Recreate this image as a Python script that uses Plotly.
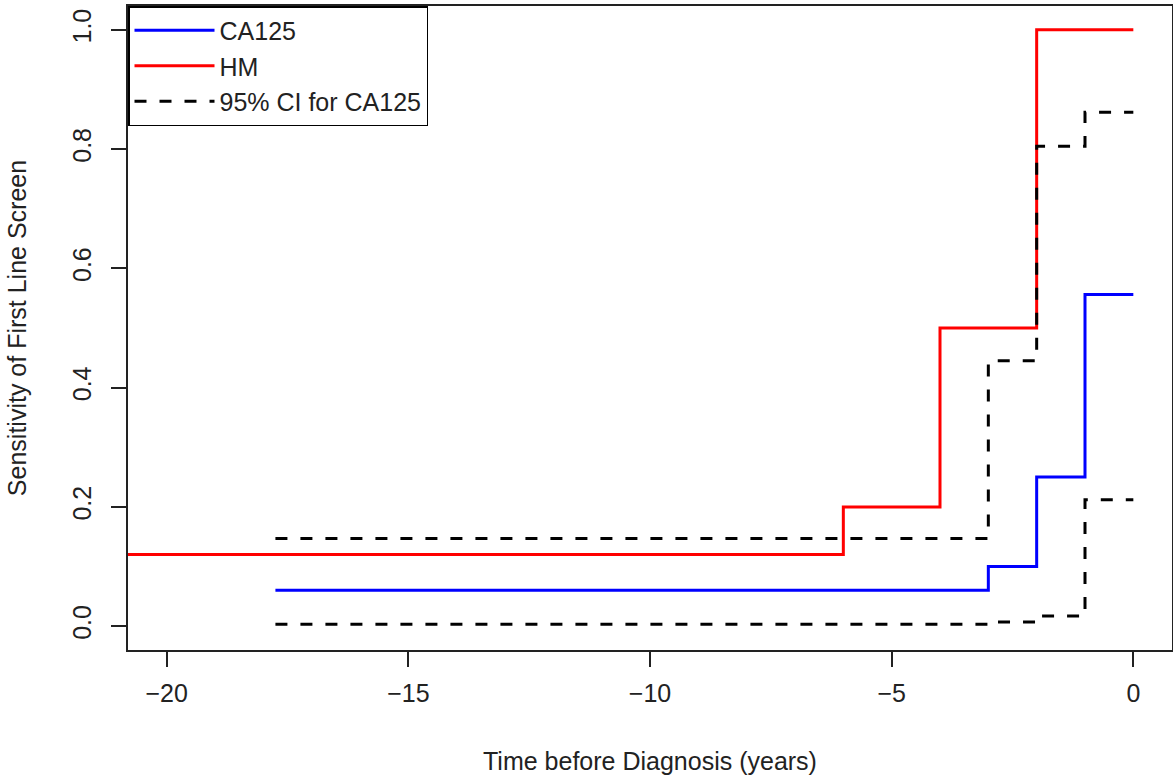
import plotly.graph_objects as go

# Step-function data (x = step start times, y = values; last point is the end)
hm_x = [-21, -6, -4, -2, 0]
hm_y = [0.12, 0.20, 0.50, 1.00, 1.00]

ca_x = [-17.75, -3, -2, -1, 0]
ca_y = [0.06, 0.10, 0.25, 0.556, 0.556]

ci_up_x = [-17.75, -3, -2, -1, 0]
ci_up_y = [0.147, 0.445, 0.805, 0.862, 0.862]

ci_lo_x = [-17.75, -3, -2, -1, 0]
ci_lo_y = [0.003, 0.007, 0.017, 0.212, 0.212]

x_ticks = [-20, -15, -10, -5, 0]
x_tick_labels = ["\u221220", "\u221215", "\u221210", "\u22125", "0"]
y_ticks = [0.0, 0.2, 0.4, 0.6, 0.8, 1.0]
y_tick_labels = ["0.0", "0.2", "0.4", "0.6", "0.8", "1.0"]

FONT = "Liberation Sans, Arial, sans-serif"
FS = 25
DASH = "12px,13px"

fig = go.Figure()
fig.add_trace(go.Scatter(x=ca_x, y=ca_y, mode="lines", line_shape="hv",
                         line=dict(color="#0000ff", width=3), name="CA125"))
fig.add_trace(go.Scatter(x=hm_x, y=hm_y, mode="lines", line_shape="hv",
                         line=dict(color="#ff0000", width=3), name="HM"))
fig.add_trace(go.Scatter(x=ci_up_x, y=ci_up_y, mode="lines", line_shape="hv",
                         line=dict(color="black", width=3, dash=DASH),
                         name="95% CI for CA125"))
fig.add_trace(go.Scatter(x=ci_lo_x, y=ci_lo_y, mode="lines", line_shape="hv",
                         line=dict(color="black", width=3, dash=DASH),
                         name="95% CI lower", showlegend=False))

fig.update_layout(
    width=1173, height=779,
    margin=dict(l=128, r=1, t=6, b=129, autoexpand=False),
    paper_bgcolor="white", plot_bgcolor="white",
    font=dict(family=FONT, size=FS, color="#222222"),
    showlegend=True,
    legend=dict(x=0, y=1, xanchor="left", yanchor="top",
                bordercolor="black", borderwidth=1.5, bgcolor="white",
                font=dict(family=FONT, size=FS, color="#222222"),
                tracegroupgap=0, itemwidth=80,
                traceorder="normal"),
    xaxis=dict(range=[-20.8, 0.8], tickvals=x_ticks, ticktext=x_tick_labels,
               showgrid=False, zeroline=False, showline=True, linecolor="#222222",
               linewidth=1.5, mirror=True, ticks="outside", ticklen=15,
               tickwidth=1.5, tickcolor="#222222", ticklabelstandoff=5,
               title=dict(text="Time before Diagnosis (years)", standoff=47,
                          font=dict(family=FONT, size=FS))),
    yaxis=dict(range=[-0.04, 1.04], tickvals=y_ticks, ticktext=y_tick_labels,
               showgrid=False, zeroline=False, showline=True, linecolor="#222222",
               linewidth=1.5, mirror=True, ticks="outside", ticklen=15,
               tickwidth=1.5, tickcolor="#222222", tickangle=-90,
               ticklabelstandoff=10,
               title=dict(text="Sensitivity of First Line Screen", standoff=35,
                          font=dict(family=FONT, size=FS))),
)

fig.write_html("out.html", config={"displayModeBar": False},
               post_script="document.body.style.margin='0';")
